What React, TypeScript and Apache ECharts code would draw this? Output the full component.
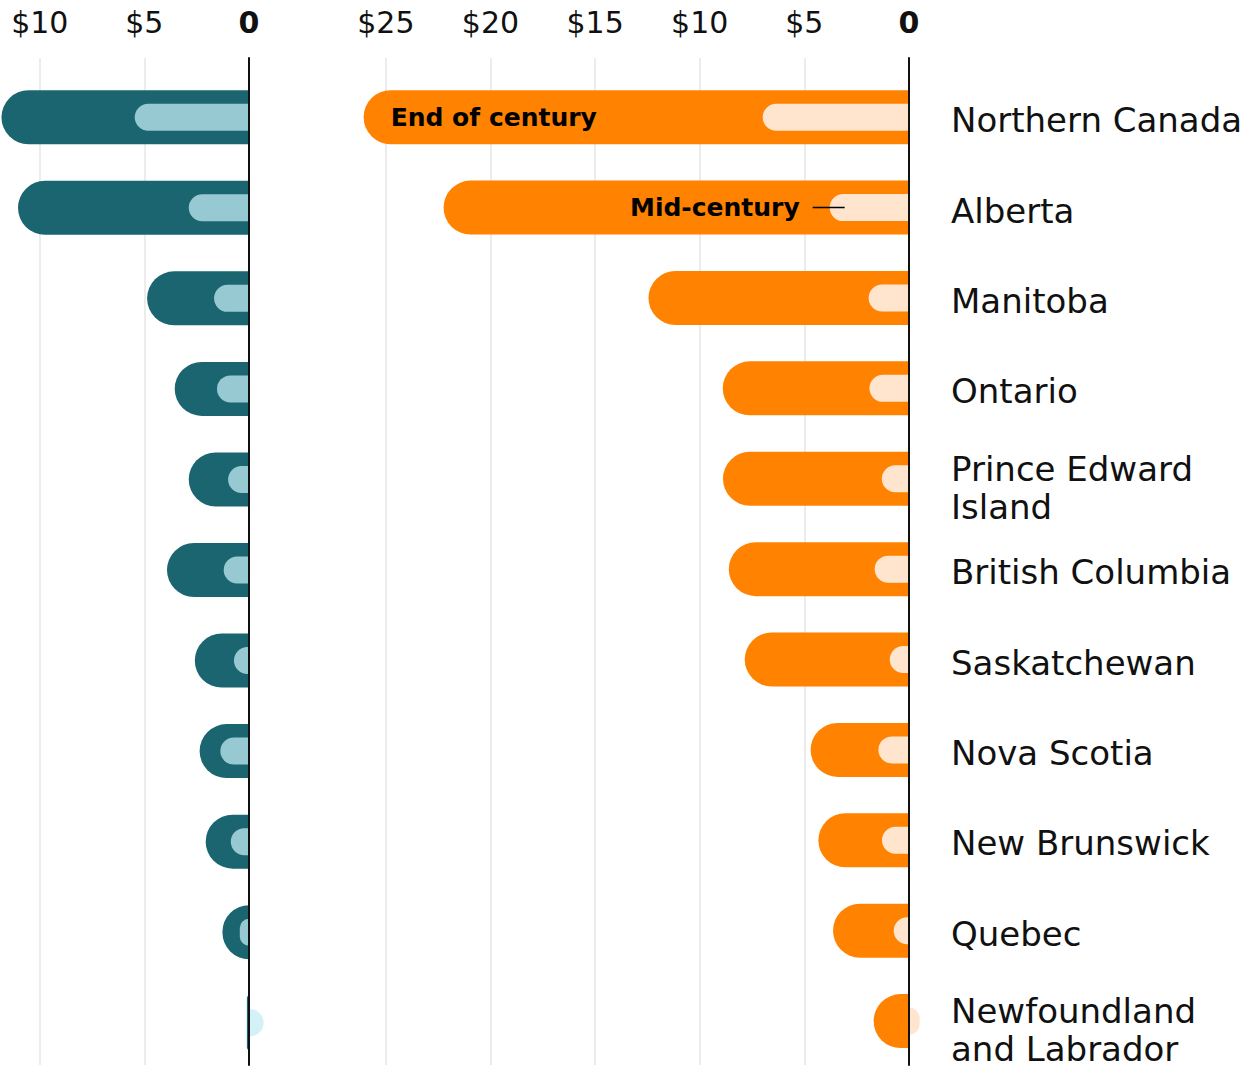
import React, { useEffect, useRef } from "react";
import * as echarts from "echarts";

const regions = [
  "Northern Canada",
  "Alberta",
  "Manitoba",
  "Ontario",
  "Prince Edward\nIsland",
  "British Columbia",
  "Saskatchewan",
  "Nova Scotia",
  "New Brunswick",
  "Quebec",
  "Newfoundland\nand Labrador",
];

// Left panel (teal) — dollars
const tealEndOfCentury = [11.83, 11.04, 4.87, 3.55, 2.88, 3.92, 2.59, 2.36, 2.07, 1.27, 0.1];
const tealMidCentury = [5.46, 2.88, 1.67, 1.53, 1.0, 1.21, 0.72, 1.37, 0.87, 0.44, -0.7];

// Right panel (orange) — dollars
const orangeEndOfCentury = [26.06, 22.24, 12.45, 8.9, 8.89, 8.61, 7.85, 4.7, 4.33, 3.63, 1.69];
const orangeMidCentury = [6.99, 3.79, 1.93, 1.89, 1.3, 1.64, 0.92, 1.46, 1.29, 0.73, -0.51];

const leftMax = 11.9;
const rightMax = 27.19;
const tickInterval = 5;

const FONT = "DejaVu Sans";
const TEAL = "#1a6570";
const TEAL_LIGHT = "#97c9d2";
const TEAL_NEG = "#d3f1f6";
const ORANGE = "#ff8200";
const PEACH = "#ffe5cd";
const GRID_LINE = "#e6e6e6";

function tickFormatter(v: number) {
  if (v === 0) return "{b|0}";
  if (v % tickInterval !== 0) return "";
  return "$" + v;
}

const tickLabel = {
  show: true,
  fontFamily: FONT,
  fontSize: 30,
  color: "#111",
  margin: 21,
  showMaxLabel: false,
  formatter: tickFormatter,
  rich: { b: { fontFamily: FONT, fontSize: 30, fontWeight: "bold", color: "#111" } },
};

export default function App() {
  const ref = useRef<HTMLDivElement>(null);
  useEffect(() => {
    document.body.style.margin = "0";
    if (!ref.current) return;
    const chart = echarts.init(ref.current, undefined, { renderer: "svg" });

    const lightItem = (v: number, pos: string, neg: string) =>
      v < 0
        ? { value: v, itemStyle: { color: neg, borderRadius: [0, 13.5, 13.5, 0] } }
        : { value: v, itemStyle: { color: pos, borderRadius: [13.5, 0, 0, 13.5] } };

    const option: any = {
      animation: false,
      grid: [
        { left: 0, right: 998, top: 72, bottom: 0 },
        { left: 340, right: 338, top: 72, bottom: 0 },
        { left: 0, right: 998, top: 58, bottom: 3 },
        { left: 340, right: 338, top: 58, bottom: 3 },
      ],
      xAxis: [
        { gridIndex: 0, type: "value", inverse: true, min: 0, max: leftMax, show: false },
        { gridIndex: 1, type: "value", inverse: true, min: 0, max: rightMax, show: false },
        {
          gridIndex: 2, type: "value", inverse: true, min: 0, max: leftMax, interval: tickInterval,
          position: "top", axisLine: { show: false }, axisTick: { show: false },
          axisLabel: tickLabel,
          splitLine: { show: true, showMaxLine: false, lineStyle: { color: GRID_LINE, width: 1.5 } },
        },
        {
          gridIndex: 3, type: "value", inverse: true, min: 0, max: rightMax, interval: tickInterval,
          position: "top", axisLine: { show: false }, axisTick: { show: false },
          axisLabel: tickLabel,
          splitLine: { show: true, showMaxLine: false, lineStyle: { color: GRID_LINE, width: 1.5 } },
        },
      ],
      yAxis: [
        { gridIndex: 0, type: "category", inverse: true, data: regions, show: false },
        { gridIndex: 0, type: "category", inverse: true, data: regions, show: false },
        {
          gridIndex: 1, type: "category", inverse: true, data: regions, position: "right",
          axisLine: { show: false }, axisTick: { show: false }, splitLine: { show: false },
          axisLabel: {
            fontFamily: FONT, fontSize: 34, color: "#111", margin: 42, align: "left",
            lineHeight: 38, padding: [6, 0, 0, 0],
            formatter: (v: string) => (v.indexOf("\n") >= 0 ? "{s|}\n" + v : v),
            rich: { s: { height: 12, lineHeight: 12, fontSize: 1 } },
          },
        },
        { gridIndex: 1, type: "category", inverse: true, data: regions, show: false },
        {
          gridIndex: 2, type: "value", min: 0, max: 1, position: "right", z: 10,
          axisLine: { show: true, onZero: false, lineStyle: { color: "#111", width: 2 } },
          axisTick: { show: false }, axisLabel: { show: false }, splitLine: { show: false },
        },
        {
          gridIndex: 3, type: "value", min: 0, max: 1, position: "right", z: 10,
          axisLine: { show: true, onZero: false, lineStyle: { color: "#111", width: 2 } },
          axisTick: { show: false }, axisLabel: { show: false }, splitLine: { show: false },
        },
      ],
      series: [
        {
          name: "Teal end of century", type: "bar", xAxisIndex: 0, yAxisIndex: 0,
          barWidth: 54, clip: false, data: tealEndOfCentury,
          itemStyle: { color: TEAL, borderRadius: [27, 0, 0, 27] },
        },
        {
          name: "Teal mid-century", type: "bar", xAxisIndex: 0, yAxisIndex: 1,
          barWidth: 27, clip: false,
          data: tealMidCentury.map((v) => lightItem(v, TEAL_LIGHT, TEAL_NEG)),
        },
        {
          name: "Orange end of century", type: "bar", xAxisIndex: 1, yAxisIndex: 2,
          barWidth: 54, clip: false,
          itemStyle: { color: ORANGE, borderRadius: [27, 0, 0, 27] },
          data: orangeEndOfCentury.map((v, i) =>
            i === 0
              ? {
                  value: v,
                  label: {
                    show: true, position: "insideLeft", distance: 27,
                    formatter: "End of century", fontFamily: FONT, fontSize: 25,
                    fontWeight: "bold", color: "#000",
                  },
                }
              : v
          ),
        },
        {
          name: "Orange mid-century", type: "bar", xAxisIndex: 1, yAxisIndex: 3,
          barWidth: 27, clip: false,
          data: orangeMidCentury.map((v, i) => {
            const item: any = lightItem(v, PEACH, PEACH);
            if (i === 1) {
              item.label = {
                show: true, position: "left", distance: -15,
                formatter: "{t|Mid-century}{g|}{l|}",
                rich: {
                  t: { fontFamily: FONT, fontSize: 25, fontWeight: "bold", color: "#000" },
                  g: { width: 13 },
                  l: { width: 32, height: 1.5, backgroundColor: "#000" },
                },
              };
            }
            return item;
          }),
        },
      ],
    };
    chart.setOption(option);
    return () => chart.dispose();
  }, []);
  return <div ref={ref} style={{ width: 1247, height: 1068 }} />;
}
